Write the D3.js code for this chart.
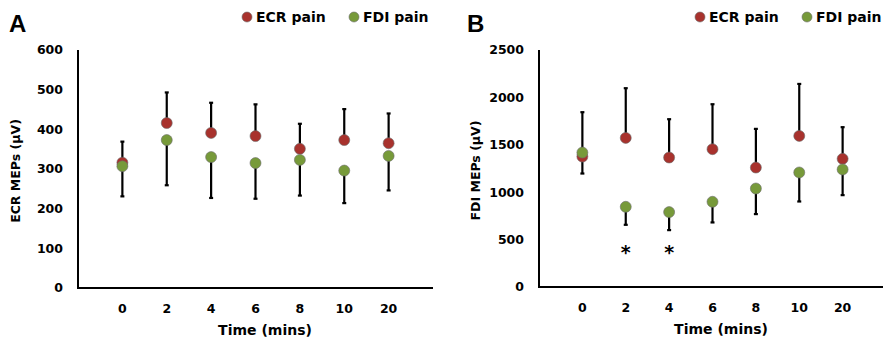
<!DOCTYPE html>
<html><head><meta charset="utf-8">
<script src="https://cdn.jsdelivr.net/npm/d3@7"></script>
<style>body{margin:0;background:#fff}svg{display:block}text{font-family:"DejaVu Sans",sans-serif;font-weight:bold;fill:#000}</style>
</head><body><svg id="c" width="883" height="342"></svg>
<script>
const categories = ["0","2","4","6","8","10","20"];
const seriesNames = ["ECR pain","FDI pain"];
// Panel A (ECR MEPs)
const ecrA = [316, 416, 391, 383, 351, 373, 365];
const ecrAErr = [53, 77, 76, 80, 63, 78, 75];
const fdiA = [307, 373, 330, 315, 323, 296, 333];
const fdiAErr = [76, 114, 103, 90, 90, 82, 87];
const ticksA = [0,100,200,300,400,500,600];
// Panel B (FDI MEPs)
const ecrB = [1376, 1573, 1366, 1454, 1260, 1594, 1352];
const ecrBErr = [468, 524, 404, 474, 408, 548, 334];
const fdiB = [1418, 846, 790, 899, 1039, 1208, 1240];
const fdiBErr = [221, 190, 190, 218, 270, 306, 271];
const ticksB = [0,500,1000,1500,2000,2500];
const starsB = ["2","4"];

const red = "#A8322D", green = "#779A3A";
const svg = d3.select("#c");

function panel(o){
  const g = svg.append("g");
  const x = d3.scaleLinear().domain([0, 8]).range([o.x0, o.x1]);
  const y = d3.scaleLinear().domain([0, o.max]).range([o.y0, o.y1]);
  const xi = c => x(categories.indexOf(c) + 1);
  g.selectAll(".yt").data(o.ticks).enter().append("text")
    .attr("x", o.x0 - 15).attr("y", d => y(d)).attr("dy", "0.35em")
    .attr("text-anchor", "end").style("font-size", "12.5px").text(d => d);
  g.selectAll(".xt").data(categories).enter().append("text")
    .attr("x", d => xi(d)).attr("y", o.y0 + 25).attr("text-anchor", "middle")
    .style("font-size", "12.5px").text(d => d);
  g.append("line").attr("x1", o.x0).attr("x2", o.x0).attr("y1", y(o.max)).attr("y2", o.y0 + 1)
    .attr("stroke", "#000").attr("stroke-width", 2);
  g.append("line").attr("x1", o.x0 - 1).attr("x2", o.x1).attr("y1", o.y0).attr("y2", o.y0)
    .attr("stroke", "#000").attr("stroke-width", 2);
  g.append("text").attr("x", o.tx).attr("y", o.y0 + 47).attr("text-anchor", "middle")
    .style("font-size", "14px").text("Time (mins)");
  g.append("text").attr("transform", `translate(${o.yt},${(o.y0 + y(o.max)) / 2 + 2}) rotate(-90)`)
    .attr("text-anchor", "middle").attr("dy", "0.35em").style("font-size", "12.5px").text(o.ytitle);
  g.append("text").attr("x", o.lx).attr("y", 32).style("font-size", "24px").style("font-family", "Liberation Sans, Arial, sans-serif").text(o.letter);
  const bar = (vals, errs, dir) => {
    categories.forEach((c, i) => {
      const v = vals[i], e = errs[i] * dir;
      g.append("line").attr("x1", xi(c)).attr("x2", xi(c)).attr("y1", y(v)).attr("y2", y(v + e))
        .attr("stroke", "#000").attr("stroke-width", 2.2);
      g.append("line").attr("x1", xi(c) - 2).attr("x2", xi(c) + 2).attr("y1", y(v + e)).attr("y2", y(v + e))
        .attr("stroke", "#000").attr("stroke-width", 2.2);
    });
  };
  bar(o.ecr, o.ecrErr, 1);
  bar(o.fdi, o.fdiErr, -1);
  const pts = (vals, col) => g.selectAll(null).data(categories).enter().append("circle")
    .attr("cx", d => xi(d)).attr("cy", (d, i) => y(vals[i])).attr("r", 5.5)
    .attr("fill", col).attr("stroke", "#6b6b6b").attr("stroke-width", 0.6);
  pts(o.ecr, red);
  pts(o.fdi, green);
  if (o.stars) g.selectAll(null).data(o.stars).enter().append("text")
    .attr("x", d => xi(d)).attr("y", o.y0 - 28).attr("text-anchor", "middle")
    .style("font-size", "19px").text("*");
  const leg = [[seriesNames[0], red, o.lg[0]], [seriesNames[1], green, o.lg[1]]];
  leg.forEach(([t, c, lx]) => {
    g.append("circle").attr("cx", lx).attr("cy", 17).attr("r", 5).attr("fill", c).attr("stroke", "#6b6b6b").attr("stroke-width", 0.6);
    g.append("text").attr("x", lx + 9).attr("y", 17).attr("dy", "0.35em").style("font-size", "14px").text(t);
  });
}

panel({x0: 78, x1: 433, y0: 288, y1: 50, max: 600, ticks: ticksA, ecr: ecrA, ecrErr: ecrAErr, fdi: fdiA, fdiErr: fdiAErr,
  ytitle: "ECR MEPs (µV)", yt: 16, letter: "A", lx: 9, lg: [247, 354], tx: 265});
panel({x0: 539, x1: 886, y0: 287, y1: 50, max: 2500, ticks: ticksB, ecr: ecrB, ecrErr: ecrBErr, fdi: fdiB, fdiErr: fdiBErr,
  ytitle: "FDI MEPs (µV)", yt: 476, letter: "B", lx: 467, lg: [700, 807], stars: starsB, tx: 721});
</script></body></html>
